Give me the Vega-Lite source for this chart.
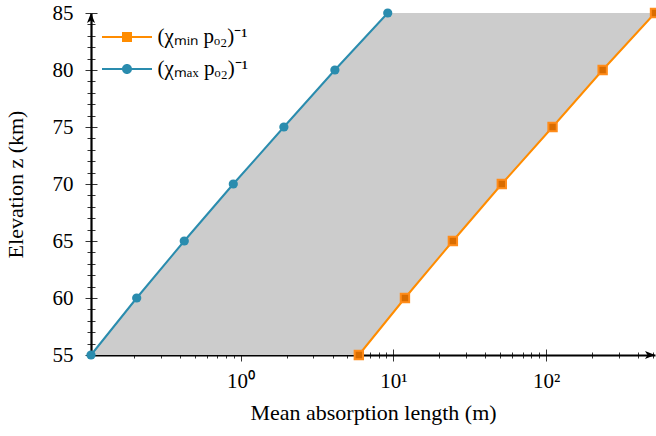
{
  "$schema": "https://vega.github.io/schema/vega-lite/v6.json",
  "width": 564,
  "height": 342,
  "autosize": {"type": "none"},
  "padding": {"left": 91, "top": 13, "right": 1, "bottom": 81},
  "config": {
    "font": "Liberation Serif",
    "view": {"stroke": null},
    "axis": {
      "labelFont": "Liberation Serif",
      "titleFont": "Liberation Serif",
      "labelFontSize": 21,
      "titleFontSize": 22,
      "labelColor": "black",
      "titleColor": "black",
      "titleFontWeight": "normal",
      "domainColor": "black",
      "domainWidth": 2.2,
      "tickColor": "black",
      "tickWidth": 0.8,
      "grid": false
    }
  },
  "datasets": {
    "band": [
      {"z": 55, "lo": 0.105, "hi": 5.94},
      {"z": 60, "lo": 0.209, "hi": 11.9},
      {"z": 65, "lo": 0.428, "hi": 24.5},
      {"z": 70, "lo": 0.896, "hi": 51.2},
      {"z": 75, "lo": 1.92, "hi": 110},
      {"z": 80, "lo": 4.14, "hi": 234},
      {"z": 85, "lo": 9.18, "hi": 515}
    ],
    "pts": [
      {"z": 55, "len": 5.94, "s": "min", "label": "(χₘᵢₙ pₒ₂)⁻¹"},
      {"z": 60, "len": 11.9, "s": "min", "label": "(χₘᵢₙ pₒ₂)⁻¹"},
      {"z": 65, "len": 24.5, "s": "min", "label": "(χₘᵢₙ pₒ₂)⁻¹"},
      {"z": 70, "len": 51.2, "s": "min", "label": "(χₘᵢₙ pₒ₂)⁻¹"},
      {"z": 75, "len": 110, "s": "min", "label": "(χₘᵢₙ pₒ₂)⁻¹"},
      {"z": 80, "len": 234, "s": "min", "label": "(χₘᵢₙ pₒ₂)⁻¹"},
      {"z": 85, "len": 515, "s": "min", "label": "(χₘᵢₙ pₒ₂)⁻¹"},
      {"z": 55, "len": 0.105, "s": "max", "label": "(χₘₐₓ pₒ₂)⁻¹"},
      {"z": 60, "len": 0.209, "s": "max", "label": "(χₘₐₓ pₒ₂)⁻¹"},
      {"z": 65, "len": 0.428, "s": "max", "label": "(χₘₐₓ pₒ₂)⁻¹"},
      {"z": 70, "len": 0.896, "s": "max", "label": "(χₘₐₓ pₒ₂)⁻¹"},
      {"z": 75, "len": 1.92, "s": "max", "label": "(χₘₐₓ pₒ₂)⁻¹"},
      {"z": 80, "len": 4.14, "s": "max", "label": "(χₘₐₓ pₒ₂)⁻¹"},
      {"z": 85, "len": 9.18, "s": "max", "label": "(χₘₐₓ pₒ₂)⁻¹"}
    ],
    "arrows": [
      {"z": 85, "len": 0.105, "dir": "up"},
      {"z": 55, "len": 515, "dir": "right"}
    ]
  },
  "resolve": {"axis": {"x": "independent", "y": "independent"}},
  "layer": [
    {
      "data": {"name": "band"},
      "mark": {"type": "area", "color": "#cccccc", "opacity": 1},
      "encoding": {
        "y": {
          "field": "z", "type": "quantitative",
          "scale": {"domain": [55, 85], "nice": false, "zero": false},
          "axis": {
            "values": [55,56,57,58,59,60,61,62,63,64,65,66,67,68,69,70,71,72,73,74,75,76,77,78,79,80,81,82,83,84,85],
            "labelExpr": "datum.value % 5 === 0 ? datum.label : ''",
            "tickSize": {"condition": {"test": "datum.value % 5 === 0", "value": 6}, "value": 4},
            "labelPadding": 12,
            "title": "Elevation z (km)",
            "titlePadding": 25
          }
        },
        "x": {
          "field": "lo", "type": "quantitative",
          "scale": {"type": "log", "domain": [0.105, 515], "nice": false},
          "axis": {
            "values": [0.2,0.3,0.4,0.5,0.6,0.7,0.8,0.9,1,2,3,4,5,6,7,8,9,10,20,30,40,50,60,70,80,90,100,200,300,400,500],
            "labelExpr": "datum.value === 1 ? '10⁰' : datum.value === 10 ? '10¹' : datum.value === 100 ? '10²' : ''",
            "tickSize": {"condition": {"test": "datum.value === 1 || datum.value === 10 || datum.value === 100", "value": 6}, "value": 3},
            "labelPadding": 9,
            "title": "Mean absorption length (m)",
            "titlePadding": 11
          }
        },
        "x2": {"field": "hi"}
      }
    },
    {
      "data": {"name": "pts"},
      "transform": [{"filter": "datum.s === 'min'"}],
      "mark": {"type": "line", "color": "#ff8c00", "strokeWidth": 2},
      "encoding": {
        "x": {"field": "len", "type": "quantitative", "axis": null},
        "y": {"field": "z", "type": "quantitative", "axis": null}
      }
    },
    {
      "data": {"name": "pts"},
      "transform": [{"filter": "datum.s === 'max'"}],
      "mark": {"type": "line", "color": "#2a8cae", "strokeWidth": 2},
      "encoding": {
        "x": {"field": "len", "type": "quantitative", "axis": null},
        "y": {"field": "z", "type": "quantitative", "axis": null}
      }
    },
    {
      "data": {"name": "pts"},
      "transform": [{"filter": "datum.s === 'max'"}],
      "mark": {"type": "point", "shape": "circle", "filled": true, "color": "#2a8cae", "size": 85, "opacity": 1},
      "encoding": {
        "x": {"field": "len", "type": "quantitative", "axis": null},
        "y": {"field": "z", "type": "quantitative", "axis": null}
      }
    },
    {
      "data": {"name": "pts"},
      "transform": [{"filter": "datum.s === 'min'"}],
      "mark": {"type": "point", "shape": "square", "filled": true, "fill": "#d96c00", "stroke": "#ff8c1a", "strokeWidth": 2, "size": 70, "opacity": 1},
      "encoding": {
        "x": {"field": "len", "type": "quantitative", "axis": null},
        "y": {"field": "z", "type": "quantitative", "axis": null}
      }
    },
    {
      "data": {"name": "arrows"},
      "transform": [{"filter": "datum.dir === 'up'"}],
      "mark": {"type": "point", "shape": "M0,0L-0.8,2L0,1.5L0.8,2Z", "filled": true, "color": "black", "size": 100, "opacity": 1},
      "encoding": {
        "x": {"field": "len", "type": "quantitative", "axis": null},
        "y": {"field": "z", "type": "quantitative", "axis": null}
      }
    },
    {
      "data": {"name": "arrows"},
      "transform": [{"filter": "datum.dir === 'right'"}],
      "mark": {"type": "point", "shape": "M0,0L-2,-0.8L-1.5,0L-2,0.8Z", "filled": true, "color": "black", "size": 100, "opacity": 1},
      "encoding": {
        "x": {"field": "len", "type": "quantitative", "axis": null},
        "y": {"field": "z", "type": "quantitative", "axis": null}
      }
    },
    {
      "data": {"name": "pts"},
      "mark": {"type": "point", "filled": true, "size": 0},
      "encoding": {
        "x": {
          "field": "len", "type": "quantitative",
          "axis": {
            "orient": "bottom",
            "values": [0.2,0.3,0.4,0.5,0.6,0.7,0.8,0.9,1,2,3,4,5,6,7,8,9,10,20,30,40,50,60,70,80,90,100,200,300,400,500],
            "tickSize": {"condition": {"test": "datum.value === 1 || datum.value === 10 || datum.value === 100", "value": -6}, "value": -3},
            "labels": false, "domain": false, "title": null
          }
        },
        "y": {
          "field": "z", "type": "quantitative",
          "axis": {
            "orient": "left",
            "values": [55,56,57,58,59,60,61,62,63,64,65,66,67,68,69,70,71,72,73,74,75,76,77,78,79,80,81,82,83,84,85],
            "tickSize": {"condition": {"test": "datum.value % 5 === 0", "value": -6}, "value": -4},
            "labels": false, "domain": false, "title": null
          }
        },
        "color": {
          "field": "label", "type": "nominal",
          "scale": {"domain": ["(χₘᵢₙ pₒ₂)⁻¹", "(χₘₐₓ pₒ₂)⁻¹"], "range": ["#ff8c00", "#2a8cae"]},
          "legend": {"orient": "none", "legendX": 23.5, "legendY": 11.5, "title": null, "symbolSize": 625, "symbolOpacity": 1, "symbolStrokeWidth": 0, "labelFontSize": 21, "labelFont": "Liberation Serif", "labelColor": "black", "labelOffset": 18, "rowPadding": 9, "padding": 0}
        },
        "shape": {
          "field": "label", "type": "nominal",
          "scale": {"domain": ["(χₘᵢₙ pₒ₂)⁻¹", "(χₘₐₓ pₒ₂)⁻¹"], "range": ["M-2,-0.08H2V0.08H-2Z M-0.4,-0.4H0.4V0.4H-0.4Z", "M-2,-0.08H2V0.08H-2Z M-0.4,0A0.4,0.4 0 1,1 0.4,0A0.4,0.4 0 1,1 -0.4,0Z"]},
          "legend": {"orient": "none", "legendX": 23.5, "legendY": 11.5, "title": null, "symbolSize": 625, "symbolOpacity": 1, "symbolStrokeWidth": 0, "labelFontSize": 21, "labelFont": "Liberation Serif", "labelColor": "black", "labelOffset": 18, "rowPadding": 9, "padding": 0}
        }
      }
    }
  ]
}
